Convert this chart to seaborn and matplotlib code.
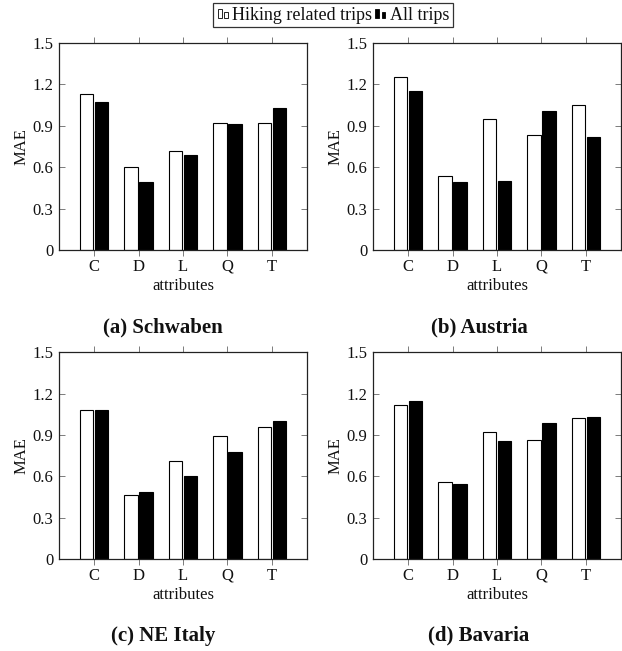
import matplotlib
matplotlib.use('Agg')
import matplotlib.pyplot as plt
import seaborn as sns
import pandas as pd
from matplotlib.patches import Rectangle
from matplotlib.legend_handler import HandlerBase

attributes = ["C", "D", "L", "Q", "T"]
series = ["Hiking related trips", "All trips"]
captions = ["(a) Schwaben", "(b) Austria", "(c) NE Italy", "(d) Bavaria"]
schwaben_hiking = [1.13, 0.60, 0.715, 0.92, 0.92]
schwaben_all = [1.07, 0.49, 0.69, 0.915, 1.03]
austria_hiking = [1.255, 0.535, 0.95, 0.835, 1.05]
austria_all = [1.155, 0.495, 0.50, 1.01, 0.82]
neitaly_hiking = [1.08, 0.465, 0.715, 0.895, 0.96]
neitaly_all = [1.08, 0.49, 0.605, 0.78, 1.005]
bavaria_hiking = [1.12, 0.56, 0.92, 0.865, 1.025]
bavaria_all = [1.15, 0.545, 0.855, 0.985, 1.03]
yticks = [0, 0.3, 0.6, 0.9, 1.2, 1.5]
ytick_labels = ["0", "0.3", "0.6", "0.9", "1.2", "1.5"]

panels = [
    (schwaben_hiking, schwaben_all),
    (austria_hiking, austria_all),
    (neitaly_hiking, neitaly_all),
    (bavaria_hiking, bavaria_all),
]

sns.set_theme(style="white")
SERIF = ['Liberation Serif', 'DejaVu Serif']
plt.rcParams['font.family'] = SERIF
plt.rcParams['axes.edgecolor'] = '#222222'
plt.rcParams['axes.linewidth'] = 0.9

W, H = 622, 651
fig = plt.figure(figsize=(W / 100, H / 100), dpi=100)

ax_w = 248 / W
ax_h = 207 / H
lefts = [59 / W, 373 / W]
bottoms = [(H - 250) / H, (H - 559.3) / H]
positions = [(lefts[0], bottoms[0]), (lefts[1], bottoms[0]),
             (lefts[0], bottoms[1]), (lefts[1], bottoms[1])]
caption_x = [163 / W, 479 / W, 163 / W, 479 / W]
caption_y = [1 - 327.5 / H, 1 - 327.5 / H, 1 - 635.5 / H, 1 - 635.5 / H]

fs = 12
for i, ((hk, al), (lx, by)) in enumerate(zip(panels, positions)):
    ax = fig.add_axes([lx, by, ax_w, ax_h])
    df = pd.DataFrame({
        "attribute": attributes * 2,
        "MAE": list(hk) + list(al),
        "series": [series[0]] * len(attributes) + [series[1]] * len(attributes),
    })
    sns.barplot(data=df, x="attribute", y="MAE", hue="series", order=attributes,
                hue_order=series, palette=["white", "black"], width=0.68, gap=0.12,
                edgecolor="black", linewidth=0.8, ax=ax, legend=False, errorbar=None)
    ax.set_xlim(-0.79, len(attributes) - 1 + 0.79)
    ax.set_ylim(0, 1.5)
    ax.set_yticks(yticks)
    ax.set_yticklabels(ytick_labels)
    ax.tick_params(axis='y', direction='in', left=True, right=True, length=4.5,
                   width=0.6, pad=4, labelsize=fs, labelcolor='#111111')
    ax.tick_params(axis='y', color='#666666')
    ax.tick_params(axis='x', direction='out', bottom=True, top=True, length=4.2,
                   width=0.6, pad=2, labelsize=fs, labelcolor='#111111')
    ax.tick_params(axis='x', color='#666666')
    ax.set_xlabel("attributes", fontsize=fs, labelpad=2.5, color='#111111',
                  family=SERIF)
    ax.set_ylabel("MAE", fontsize=fs, labelpad=2, color='#111111', family=SERIF)
    for s in ax.spines.values():
        s.set_visible(True)
        s.set_color('#222222')
    fig.text(caption_x[i], caption_y[i], captions[i], ha='center', va='center',
             fontsize=15, fontweight='bold', color='#111111', family=SERIF)


class TwoBarHandler(HandlerBase):
    def create_artists(self, legend, orig_handle, xdescent, ydescent, width,
                       height, fontsize, trans):
        fc = orig_handle.get_facecolor()
        bw = width * 0.3
        h = height * 0.85
        r1 = Rectangle((-xdescent + 0.08 * width, -ydescent + 0.05 * height), bw, h,
                       facecolor=fc, edgecolor='black', lw=0.6, transform=trans)
        r2 = Rectangle((-xdescent + 0.58 * width, -ydescent + 0.05 * height), bw, h * 0.68,
                       facecolor=fc, edgecolor='black', lw=0.6, transform=trans)
        return [r1, r2]


handles = [Rectangle((0, 0), 1, 1, facecolor='white', edgecolor='black'),
           Rectangle((0, 0), 1, 1, facecolor='black', edgecolor='black')]
leg = fig.legend(handles, series, loc='center', bbox_to_anchor=(333 / W, 1 - 15 / H),
                 ncol=2, fontsize=13, frameon=True,
                 fancybox=False, handlelength=0.7, handleheight=0.6,
                 handletextpad=0.15, columnspacing=0.1, borderpad=0.2,
                 borderaxespad=0, handler_map={Rectangle: TwoBarHandler()})
leg.get_frame().set_edgecolor('black')
leg.get_frame().set_linewidth(0.9)
for t in leg.get_texts():
    t.set_color('#111111')
    t.set_fontfamily('Liberation Serif')

fig.savefig("out.png", dpi=100)
